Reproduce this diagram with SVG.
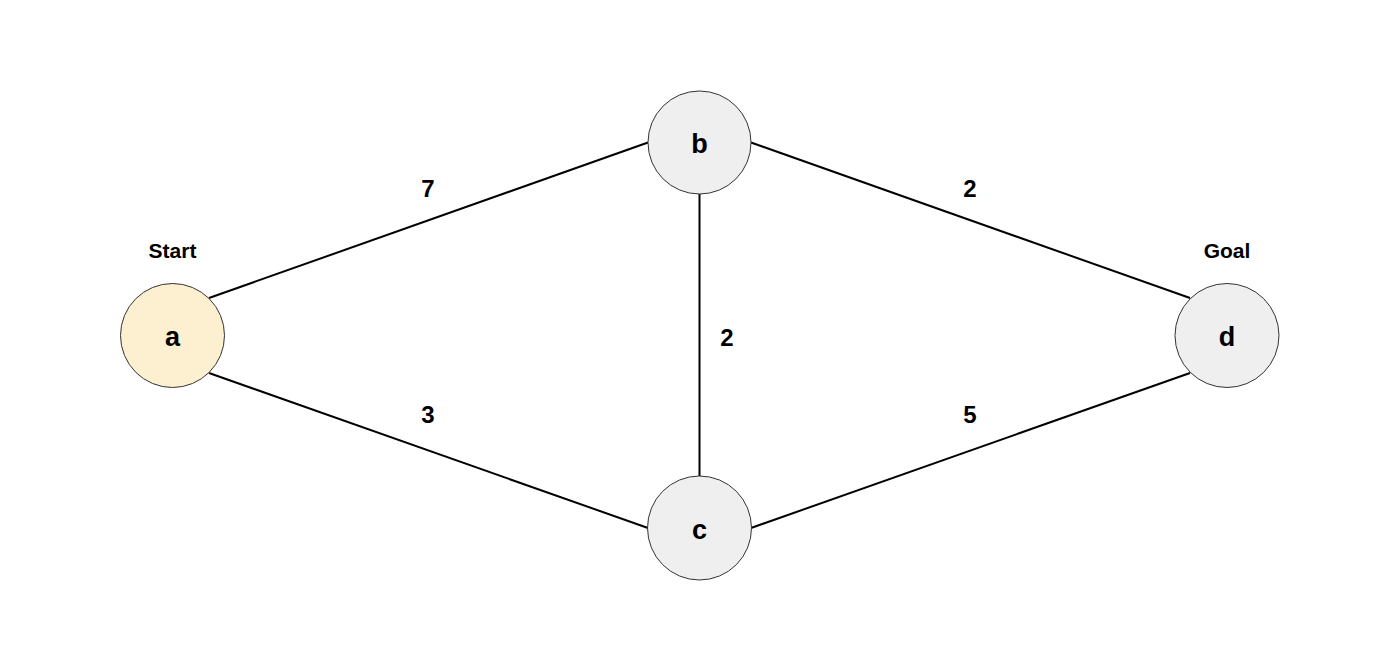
<svg xmlns="http://www.w3.org/2000/svg" width="1400" height="672" viewBox="0 0 1400 672">
<style>
.edge{stroke:#000;stroke-width:2;fill:none}
.node{stroke:#333;stroke-width:1}
.n{font-family:"Liberation Sans",Arial,sans-serif;font-weight:bold;font-size:27px;text-anchor:middle;dominant-baseline:central;fill:#000}
.w{font-family:"Liberation Sans",Arial,sans-serif;font-weight:bold;font-size:24px;text-anchor:middle;dominant-baseline:central;fill:#000}
.t{font-family:"Liberation Sans",Arial,sans-serif;font-weight:bold;font-size:21px;text-anchor:middle;dominant-baseline:central;fill:#000}
</style>
<rect width="1400" height="672" fill="#fff"/>
<g id="connectors">
<line class="edge" x1="209" y1="298" x2="648" y2="142.5"/>
<line class="edge" x1="209" y1="373" x2="648" y2="528"/>
<line class="edge" x1="699.5" y1="194" x2="699.5" y2="476"/>
<line class="edge" x1="751" y1="142.5" x2="1190" y2="298"/>
<line class="edge" x1="751" y1="528" x2="1190" y2="373"/>
<text class="w" x="428" y="188">7</text>
<text class="w" x="428" y="414">3</text>
<text class="w" x="727" y="337">2</text>
<text class="w" x="970" y="188">2</text>
<text class="w" x="970" y="414">5</text>
</g>
<g id="node-a">
<circle class="node" cx="172.5" cy="335.5" r="52" fill="#fdf0d0"/>
<text class="n" x="172.5" y="337">a</text>
<text class="t" x="172.5" y="250">Start</text>
</g>
<g id="node-b">
<circle class="node" cx="699.5" cy="142.5" r="51.5" fill="#efefef"/>
<text class="n" x="699.5" y="144">b</text>
</g>
<g id="node-c">
<circle class="node" cx="699.5" cy="528" r="52" fill="#efefef"/>
<text class="n" x="699.5" y="530">c</text>
</g>
<g id="node-d">
<circle class="node" cx="1227" cy="335.5" r="52" fill="#efefef"/>
<text class="n" x="1227" y="337">d</text>
<text class="t" x="1227" y="250">Goal</text>
</g>
</svg>
